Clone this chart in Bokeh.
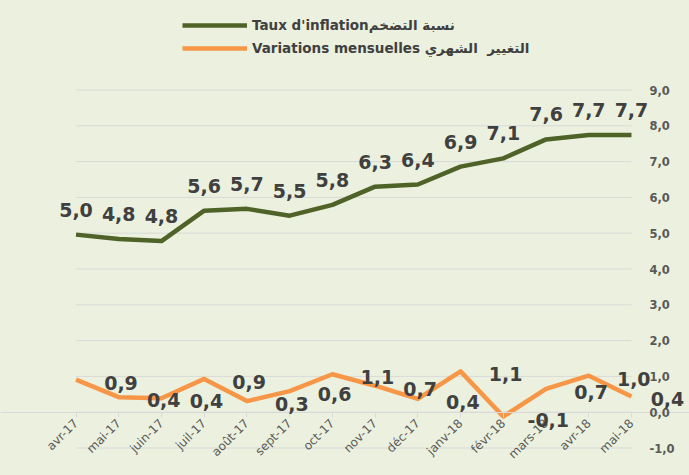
import math
from bokeh.plotting import figure
from bokeh.models import (ColumnDataSource, Range1d, LinearAxis, FixedTicker,
                          Legend, LegendItem, GlobalInlineStyleSheet)
from bokeh.core.properties import value
from bokeh.embed import file_html
from bokeh.resources import INLINE

# ---- data ----
months = ["avr-17", "mai-17", "juin-17", "juil-17", "août-17", "sept-17", "oct-17",
          "nov-17", "déc-17", "janv-18", "févr-18", "mars-18", "avr-18", "mai-18"]
inflation = [4.96, 4.84, 4.78, 5.63, 5.68, 5.49, 5.79,
             6.30, 6.36, 6.86, 7.09, 7.62, 7.74, 7.74]
monthly = [0.91, 0.42, 0.39, 0.93, 0.31, 0.59, 1.06,
           0.74, 0.37, 1.14, -0.12, 0.65, 1.02, 0.44]
y_ticks = [-1, 0, 1, 2, 3, 4, 5, 6, 7, 8, 9]
y_tick_labels = ["-1,0", "0,0", "1,0", "2,0", "3,0", "4,0", "5,0", "6,0", "7,0", "8,0", "9,0"]
name_inflation = "Taux d'inflationنسبة التضخم"
name_monthly = "Variations mensuelles التغيير  الشهري"

BG = "#EBF1DE"
GREEN = "#4F6228"
ORANGE = "#F79646"
GRID = "#D9D9D9"
FONT = "DejaVu Sans"

def fmt(v):
    return f"{v:.1f}".replace(".", ",")

xs = list(range(len(months)))
# screen-pixel shift of the monthly labels (last one kept inside the chart)
mon_label_dx = [45] * (len(months) - 1) + [36]
src = ColumnDataSource(dict(
    x=xs, infl=inflation, mon=monthly,
    infl_lab=[fmt(v) for v in inflation],
    mon_lab=[fmt(v) for v in monthly],
    mon_dx=mon_label_dx,
))

W, H = 689, 475
p = figure(width=W, height=H, output_backend="svg", toolbar_location=None,
           x_range=Range1d(-1.767, 14.358), y_range=Range1d(-1.768, 11.500),
           min_border=0, min_border_left=0, min_border_right=0,
           min_border_top=0, min_border_bottom=0,
           background_fill_color=BG, border_fill_color=BG, outline_line_color=None)
p.stylesheets = [GlobalInlineStyleSheet(css=f"body {{ background: {BG}; }}")]
p.xaxis.visible = False
p.yaxis.visible = False
p.xgrid.visible = False
p.ygrid.visible = False
p.below = []
p.left = []

# gridlines spanning first to last category
p.segment(x0=[0] * len(y_ticks), x1=[len(months) - 1] * len(y_ticks),
          y0=y_ticks, y1=y_ticks, line_color=GRID, line_width=1)

# x axis at y = 0
xax = LinearAxis(fixed_location=0,
                 ticker=FixedTicker(ticks=xs),
                 major_label_overrides={i: m for i, m in enumerate(months)},
                 major_label_orientation=math.pi / 4,
                 axis_line_color=GRID, major_tick_line_color=GRID,
                 major_tick_out=5, major_tick_in=0, minor_tick_line_color=None,
                 major_label_standoff=4,
                 major_label_text_font=FONT, major_label_text_font_size="12px",
                 major_label_text_color="#595959")
p.add_layout(xax, "below")

# y axis on the right
yax = LinearAxis(fixed_location=len(months) - 1,
                 ticker=FixedTicker(ticks=y_ticks),
                 major_label_overrides={t: l for t, l in zip(y_ticks, y_tick_labels)},
                 axis_line_color=None, major_tick_line_color=None,
                 minor_tick_line_color=None, major_tick_out=0, major_tick_in=0,
                 major_label_standoff=18,
                 major_label_text_font=FONT, major_label_text_font_size="11.5px",
                 major_label_text_font_style="bold",
                 major_label_text_color="#595959")
p.add_layout(yax, "right")

r1 = p.line("x", "infl", source=src, line_color=GREEN, line_width=4.5, line_join="round")
r2 = p.line("x", "mon", source=src, line_color=ORANGE, line_width=4.5, line_join="round")

p.text("x", "infl", text="infl_lab", source=src, text_font=value(FONT),
       text_font_size="19px", text_font_style="bold", text_color="#404040",
       text_align="center", text_baseline="middle", y_offset=-25, level="overlay")
p.text("x", "mon", text="mon_lab", source=src, text_font=value(FONT),
       text_font_size="19px", text_font_style="bold", text_color="#404040",
       text_align="center", text_baseline="middle", x_offset="mon_dx", y_offset=3,
       level="overlay")

legend = Legend(items=[LegendItem(label=name_inflation, renderers=[r1]),
                       LegendItem(label=name_monthly, renderers=[r2])],
                location=(182, 416), orientation="vertical",
                glyph_width=65, glyph_height=22, label_height=22, spacing=1,
                label_standoff=5, padding=0, margin=0,
                border_line_color=None, background_fill_alpha=0,
                label_text_font=FONT, label_text_font_size="13.5px",
                label_text_font_style="bold", label_text_color="#404040")
p.add_layout(legend, "center")

open("out.html", "w").write(file_html(p, INLINE))
